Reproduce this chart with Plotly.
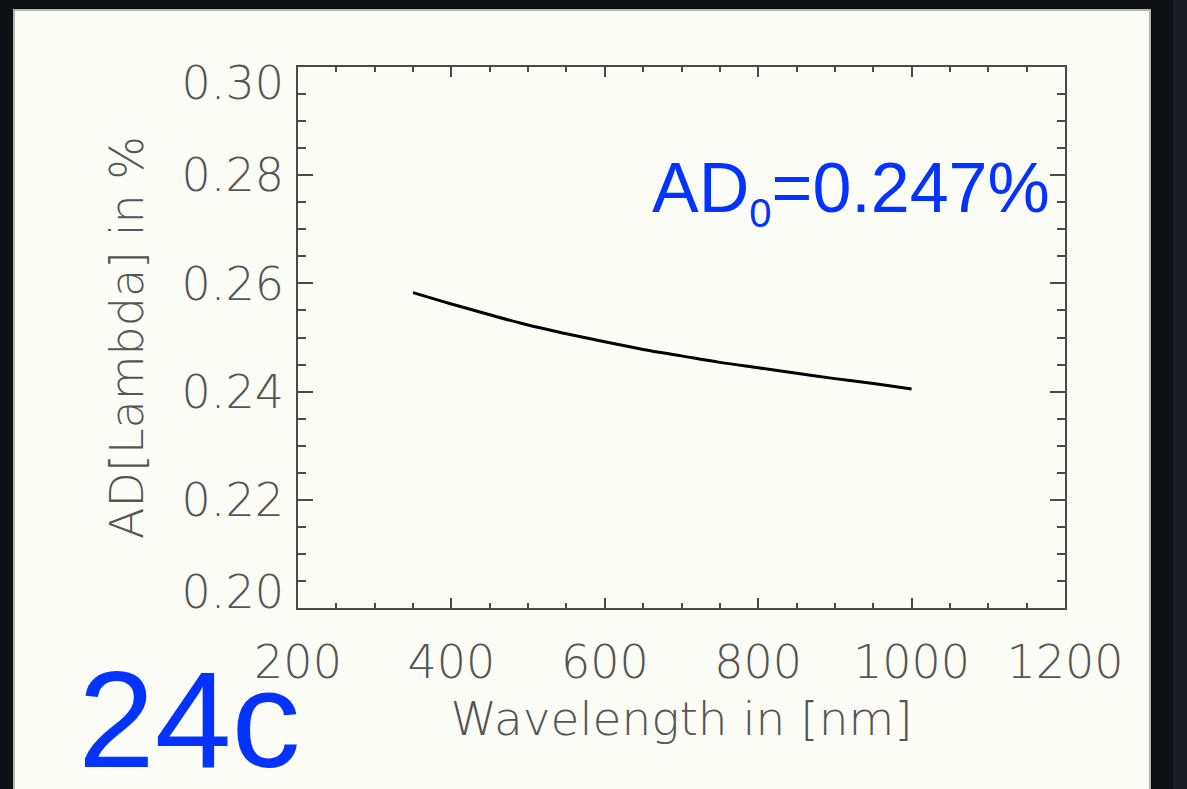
import plotly.graph_objects as go

# Data
wavelength_nm = [350, 400, 450, 500, 550, 600, 650, 700, 750, 800, 850, 900, 950, 1000]
ad_percent = [0.2583, 0.2562, 0.2542, 0.2523, 0.2507, 0.2492, 0.2478,
              0.2466, 0.2454, 0.2444, 0.2434, 0.2424, 0.2415, 0.2405]

x_ticks = [200, 400, 600, 800, 1000, 1200]
y_ticks = [0.20, 0.22, 0.24, 0.26, 0.28, 0.30]
y_tick_labels = ["0.20", "0.22", "0.24", "0.26", "0.28", "0.30"]

W, H = 1187, 789
L, R, T, B = 298, 122, 67, 181
pw, ph = W - L - R, H - T - B

def px_x(p):
    return (p - L) / pw

def px_y(p):
    return (H - B - p) / ph

BLUE = "#0433FF"
AXC = "#4A4A4A"
TXT = "#555555"
PANEL = "#FDFDF8"
DARK = "#0D0F13"
LIGHTFONT = "DejaVu Sans ExtraLight, DejaVu Sans"
tickfont = dict(family=LIGHTFONT, size=46, color=TXT, weight=200)

# In the reference the end labels of the y axis are pulled inside the axis span
y_min, y_max = 0.20, 0.30
inset = (y_max - y_min) * 0.03
label_pos = [v + inset if v == y_min else (v - inset if v == y_max else v) for v in y_ticks]

fig = go.Figure()
fig.add_trace(go.Scatter(x=wavelength_nm, y=ad_percent, mode="lines",
                         line=dict(color="black", width=3, shape="spline"),
                         showlegend=False, hoverinfo="skip"))
# invisible twin so the label axis (yaxis2) is drawn
fig.add_trace(go.Scatter(x=wavelength_nm, y=ad_percent, yaxis="y2", mode="lines",
                         line=dict(color="rgba(0,0,0,0)", width=0),
                         showlegend=False, hoverinfo="skip"))

fig.update_layout(
    width=W, height=H,
    margin=dict(l=L, r=R, t=T, b=B),
    paper_bgcolor=DARK,
    plot_bgcolor=PANEL,
    showlegend=False,
    xaxis=dict(
        range=[200, 1200], tickvals=x_ticks, ticktext=[str(v) for v in x_ticks],
        showgrid=False, zeroline=False, showline=True, linecolor=AXC, linewidth=1.5,
        mirror="ticks", ticks="inside", ticklen=10, tickwidth=1.5, tickcolor=AXC,
        minor=dict(dtick=50, ticks="inside", ticklen=5, tickwidth=1.5, tickcolor=AXC, showgrid=False),
        tickfont=tickfont, ticklabelstandoff=13,
        title=dict(text="Wavelength in [nm]",
                   font=dict(family=LIGHTFONT, size=47, color=TXT, weight=200), standoff=14),
    ),
    yaxis=dict(
        range=[y_min, y_max], tickvals=y_ticks, showticklabels=False,
        showgrid=False, zeroline=False, showline=True, linecolor=AXC, linewidth=1.5,
        mirror="ticks", ticks="inside", ticklen=15, tickwidth=1.5, tickcolor=AXC,
        minor=dict(dtick=0.005, ticks="inside", ticklen=8, tickwidth=1.5, tickcolor=AXC, showgrid=False),
    ),
    yaxis2=dict(
        overlaying="y", anchor="x", side="left", range=[y_min, y_max], tickvals=label_pos,
        ticktext=y_tick_labels, showgrid=False, zeroline=False, showline=False,
        ticks="", tickfont=tickfont, ticklabelstandoff=13,
        title=dict(text="AD[Lambda] in %",
                   font=dict(family=LIGHTFONT, size=46, color=TXT, weight=200), standoff=23),
    ),
)

# Background panel (off-white card on dark background)
fig.add_shape(type="rect", xref="paper", yref="paper",
              x0=px_x(14), x1=px_x(1150), y0=px_y(H + 20), y1=px_y(10),
              fillcolor=PANEL, line=dict(color="#B5B5B0", width=2), layer="below")
fig.add_shape(type="rect", xref="paper", yref="paper",
              x0=px_x(1173), x1=px_x(W + 5), y0=px_y(H + 5), y1=px_y(-5),
              fillcolor="#1C1D22", line=dict(width=0), layer="below")

fig.add_annotation(xref="paper", yref="paper", x=px_x(1052), y=px_y(192),
                   xanchor="right", yanchor="middle", showarrow=False,
                   text="AD<sub><span style='font-size:40px'>0</span></sub>=0.247%",
                   font=dict(family="Liberation Sans", size=70, color=BLUE))
fig.add_annotation(xref="paper", yref="paper", x=px_x(76), y=px_y(719),
                   xanchor="left", yanchor="middle", showarrow=False,
                   text="24c",
                   font=dict(family="Liberation Sans", size=138, color=BLUE))

fig.write_html("out.html", config={"displayModeBar": False},
               post_script="document.body.style.margin='0';document.body.style.background='%s';" % DARK)
